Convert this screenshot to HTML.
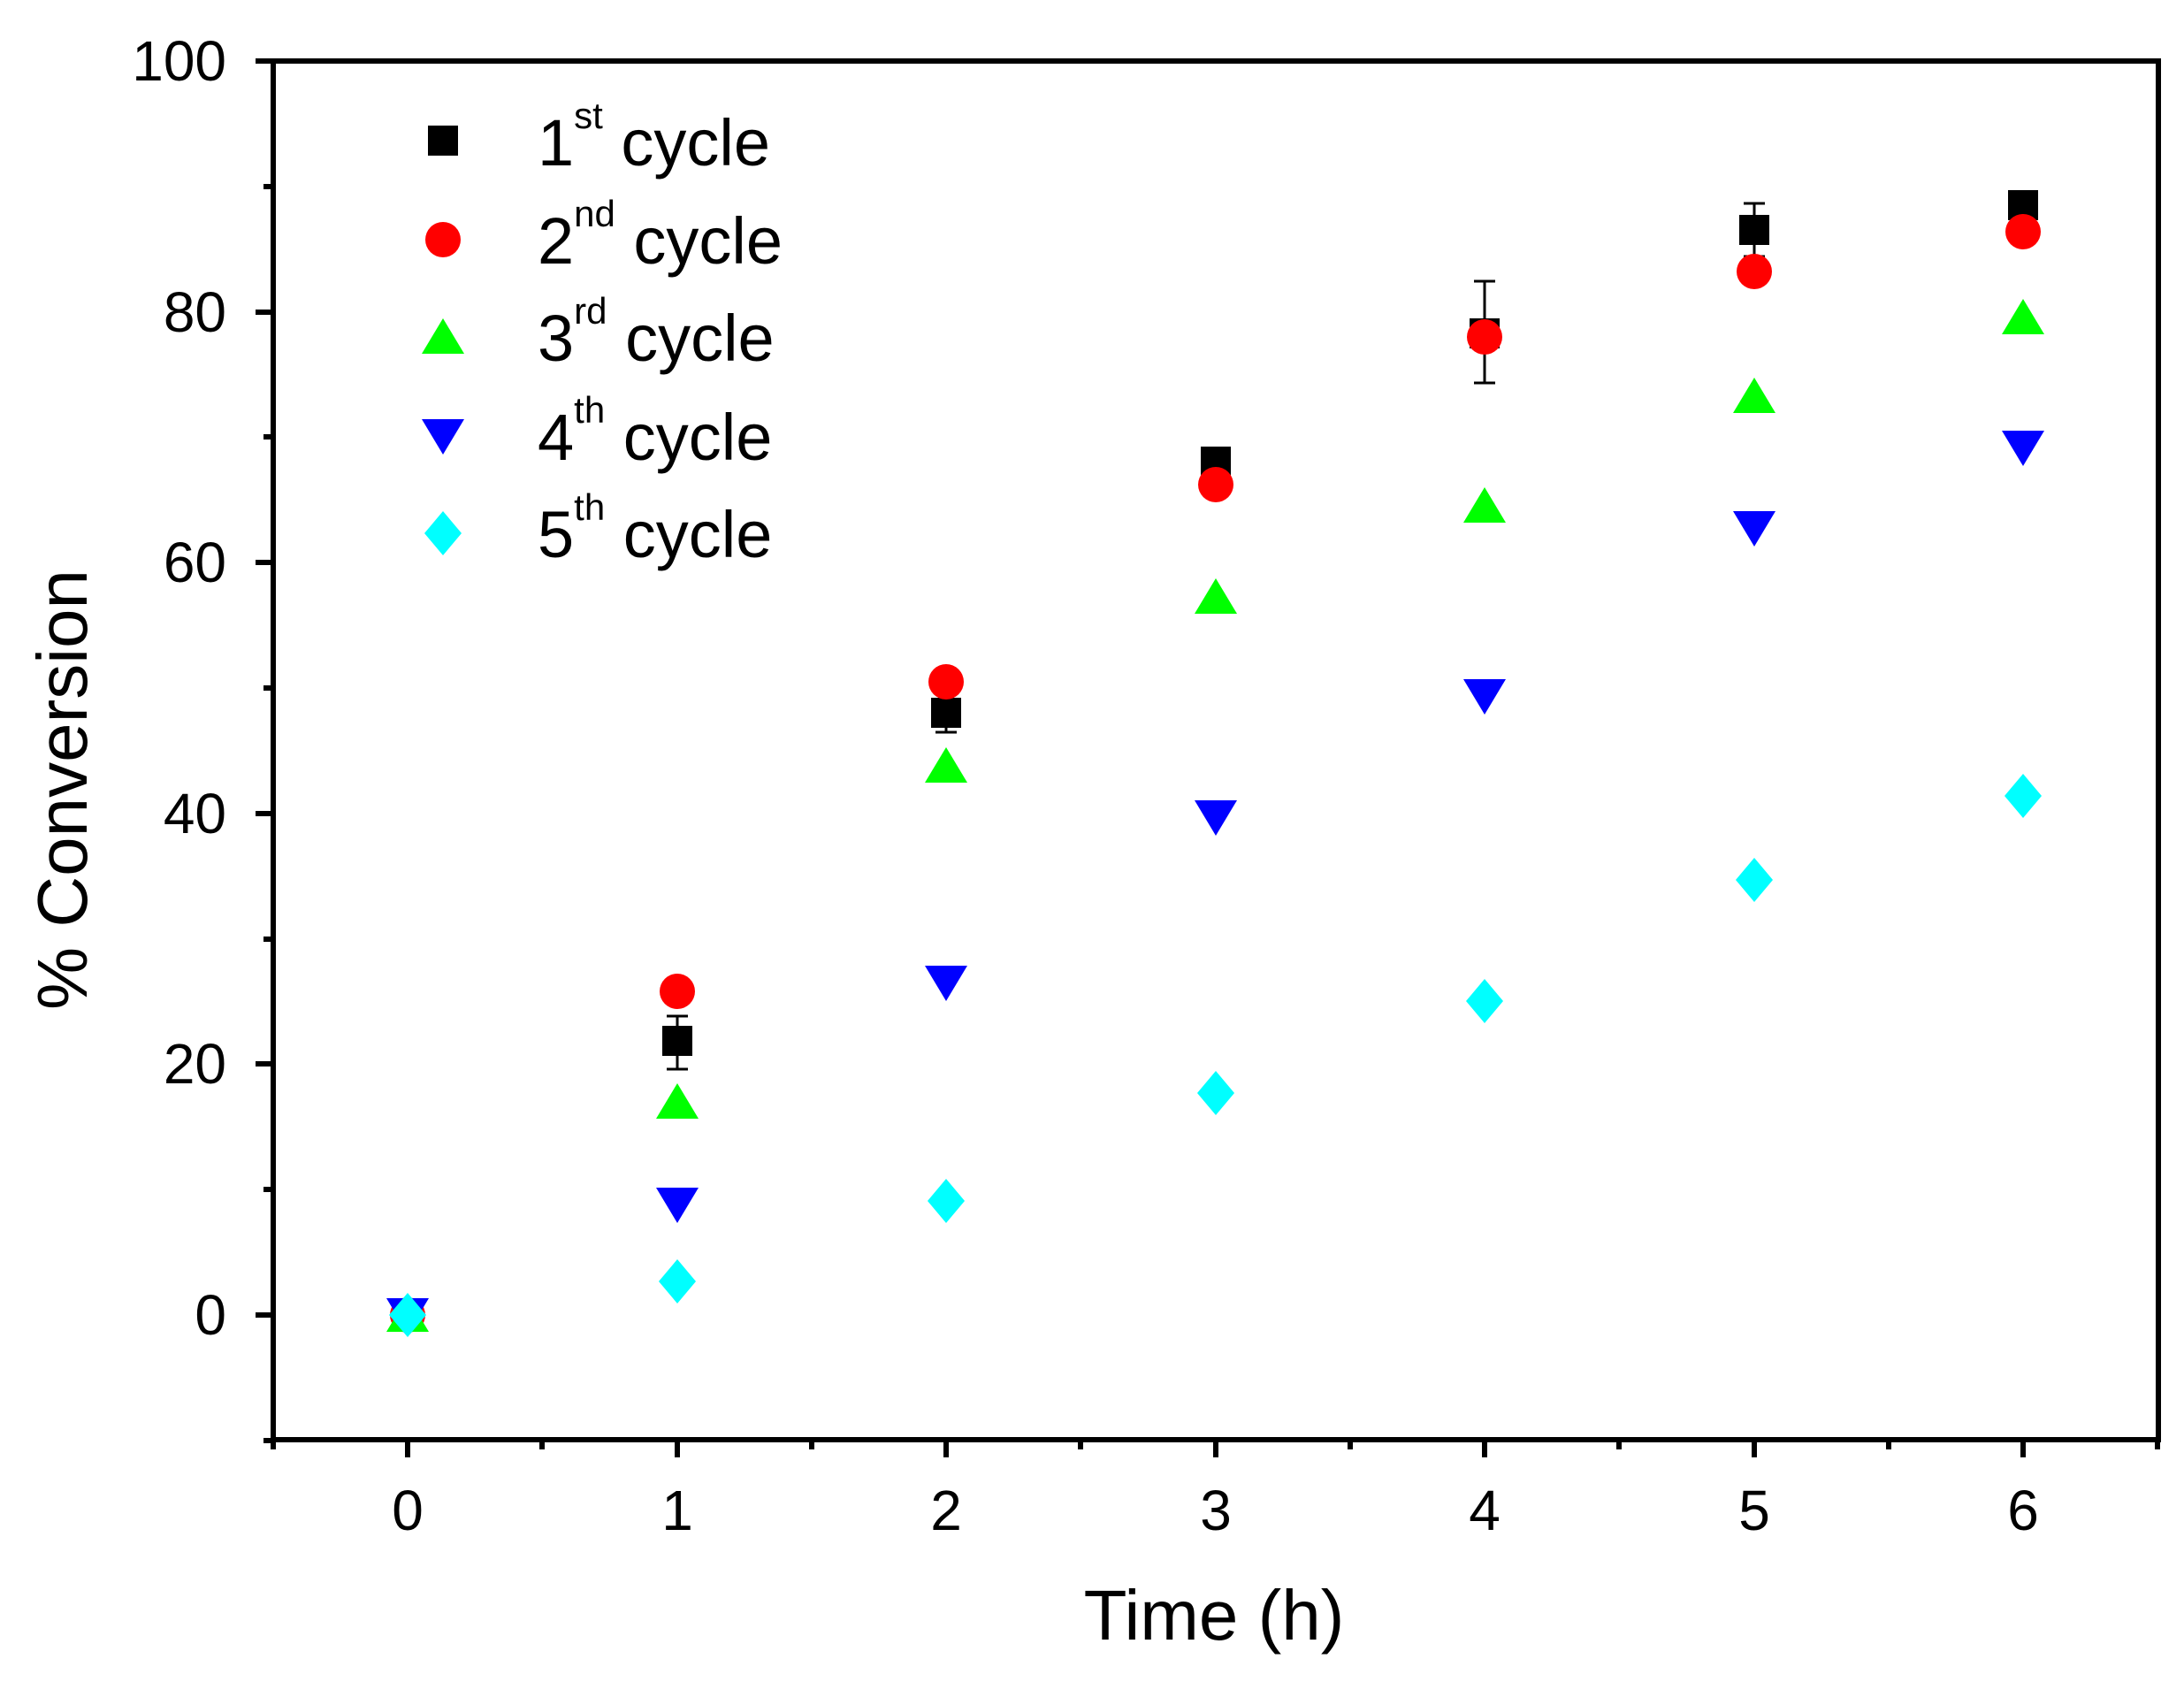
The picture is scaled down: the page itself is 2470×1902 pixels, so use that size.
<!DOCTYPE html>
<html><head><style>body{margin:0;background:#fff}svg{display:block}</style></head>
<body>
<svg width="2470" height="1902" viewBox="0 0 2470 1902" xmlns="http://www.w3.org/2000/svg" font-family="Liberation Sans, Arial, sans-serif">
<rect width="2470" height="1902" fill="#fff"/>
<g stroke="#000" stroke-width="6" fill="none">
<rect x="309" y="69" width="2132" height="1559"/>
<path d="M309 1628v11M461 1628v20M613 1628v11M766 1628v20M918 1628v11M1070 1628v20M1222 1628v11M1375 1628v20M1527 1628v11M1679 1628v20M1831 1628v11M1984 1628v20M2136 1628v11M2288 1628v20M2440 1628v11"/>
<path d="M309 69h-20M309 211h-11M309 353h-20M309 494h-11M309 636h-20M309 778h-11M309 920h-20M309 1062h-11M309 1203h-20M309 1345h-11M309 1487h-20M309 1629h-11"/>
</g>
<g font-size="64" fill="#000" text-anchor="end">
<text x="256" y="91">100</text><text x="256" y="375">80</text><text x="256" y="658">60</text>
<text x="256" y="942">40</text><text x="256" y="1225">20</text><text x="256" y="1509">0</text>
</g>
<g font-size="64" fill="#000" text-anchor="middle">
<text x="461" y="1730">0</text><text x="766" y="1730">1</text><text x="1070" y="1730">2</text>
<text x="1375" y="1730">3</text><text x="1679" y="1730">4</text><text x="1984" y="1730">5</text><text x="2288" y="1730">6</text>
</g>
<text x="1373" y="1854" font-size="80" text-anchor="middle">Time (h)</text>
<text transform="translate(98,893) rotate(-90)" font-size="80" text-anchor="middle">% Conversion</text>
<g stroke="#000" stroke-width="3">
<path d="M766 1149v60M754 1149h24M754 1209h24"/>
<path d="M1070 781v47M1058 781h24M1058 828h24"/>
<path d="M1679 318v115M1667 318h24M1667 433h24"/>
<path d="M1984 230v60M1972 230h24M1972 290h24"/>
</g>
<g fill="#000">
<rect x="444" y="1470" width="34" height="34"/><rect x="749" y="1160" width="34" height="34"/>
<rect x="1053" y="789" width="34" height="34"/><rect x="1358" y="505" width="34" height="34"/>
<rect x="1662" y="360" width="34" height="34"/><rect x="1967" y="243" width="34" height="34"/>
<rect x="2271" y="215" width="34" height="34"/>
</g>
<g fill="#ff0000">
<circle cx="461" cy="1487" r="20"/><circle cx="766" cy="1121" r="20"/><circle cx="1070" cy="771" r="20"/>
<circle cx="1375" cy="548" r="20"/><circle cx="1679" cy="381" r="20"/><circle cx="1984" cy="307" r="20"/><circle cx="2288" cy="262" r="20"/>
</g>
<g fill="#00ff00">
<path d="M461 1466l24 40h-48z"/><path d="M766 1225l24 40h-48z"/><path d="M1070 845l24 40h-48z"/>
<path d="M1375 654l24 40h-48z"/><path d="M1679 551l24 40h-48z"/><path d="M1984 427l24 40h-48z"/><path d="M2288 338l24 40h-48z"/>
</g>
<g fill="#0000ff">
<path d="M461 1508l24 -40h-48z"/><path d="M766 1383l24 -40h-48z"/><path d="M1070 1132l24 -40h-48z"/>
<path d="M1375 945l24 -40h-48z"/><path d="M1679 808l24 -40h-48z"/><path d="M1984 618l24 -40h-48z"/><path d="M2288 527l24 -40h-48z"/>
</g>
<g fill="#00ffff">
<path d="M461 1462l21 25l-21 25l-21 -25z"/><path d="M766 1424l21 25l-21 25l-21 -25z"/><path d="M1070 1333l21 25l-21 25l-21 -25z"/>
<path d="M1375 1211l21 25l-21 25l-21 -25z"/><path d="M1679 1107l21 25l-21 25l-21 -25z"/><path d="M1984 970l21 25l-21 25l-21 -25z"/><path d="M2288 875l21 25l-21 25l-21 -25z"/>
</g>
<rect x="484" y="142" width="34" height="34" fill="#000"/>
<circle cx="501" cy="271" r="20" fill="#ff0000"/>
<path d="M501 360l24 40h-48z" fill="#00ff00"/>
<path d="M501 514l24 -40h-48z" fill="#0000ff"/>
<path d="M501 578l21 25l-21 25l-21 -25z" fill="#00ffff"/>
<g font-size="74" fill="#000">
<text x="608" y="187">1<tspan font-size="42" dy="-42">st</tspan><tspan dy="42"> cycle</tspan></text>
<text x="608" y="298">2<tspan font-size="42" dy="-42">nd</tspan><tspan dy="42"> cycle</tspan></text>
<text x="608" y="408">3<tspan font-size="42" dy="-42">rd</tspan><tspan dy="42"> cycle</tspan></text>
<text x="608" y="520">4<tspan font-size="42" dy="-42">th</tspan><tspan dy="42"> cycle</tspan></text>
<text x="608" y="630">5<tspan font-size="42" dy="-42">th</tspan><tspan dy="42"> cycle</tspan></text>
</g>
</svg>
</body></html>
